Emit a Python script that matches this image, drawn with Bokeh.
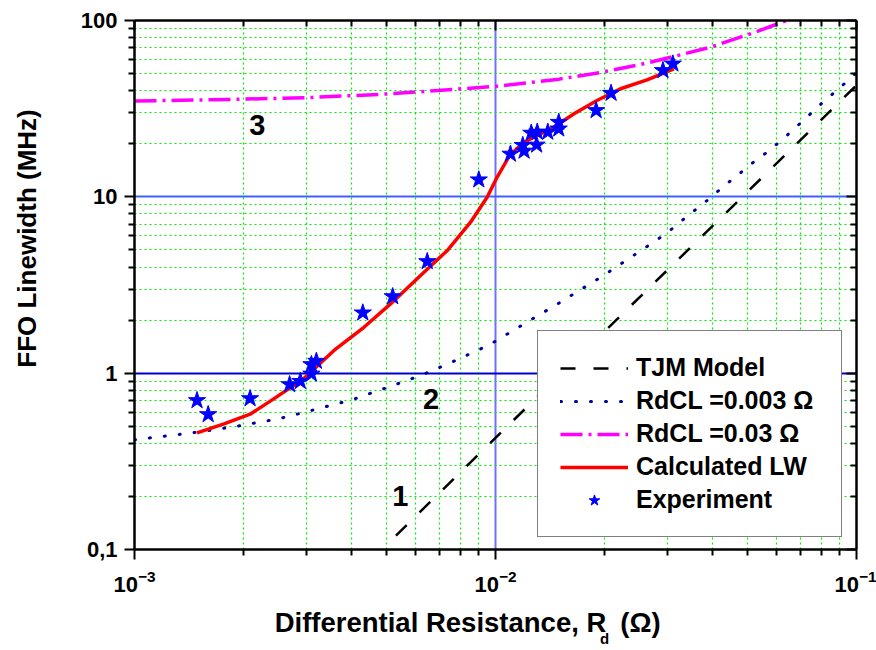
import math
from bokeh.plotting import figure
from bokeh.models import (LogAxis, FixedTicker, Grid, Legend, LegendItem, Label,
                          Range1d, LogTickFormatter)
from bokeh.embed import file_html
from bokeh.resources import INLINE

FONT = "Liberation Sans"

# ---- data -------------------------------------------------------------
# curve 1: TJM model
tjm_rd = [0.0053, 0.01, 0.03, 0.1]
tjm_lw = [0.12, 0.43, 3.86, 42.9]

# curve 2: RdCL = 0.003 Ohm
cl3_rd = [0.001, 0.00145, 0.0019, 0.0025, 0.003, 0.004, 0.0052, 0.0063, 0.0075,
          0.0091, 0.0099, 0.0125, 0.015, 0.02, 0.0272, 0.0298, 0.0326, 0.0356,
          0.0391, 0.0428, 0.0469, 0.0514, 0.0563, 0.0618, 0.0678, 0.0742, 0.0811,
          0.0893, 0.0973, 0.1]
cl3_lw = [0.419, 0.459, 0.498, 0.551, 0.604, 0.706, 0.851, 0.983, 1.145,
          1.374, 1.5, 2.0, 2.5, 3.6, 5.48, 6.22, 7.25, 8.37,
          9.75, 11.45, 13.3, 15.5, 17.8, 20.8, 24.7, 29.3, 34.7,
          41.0, 48.1, 50.5]

# curve 3: RdCL = 0.03 Ohm
cl30_rd = [0.001, 0.002, 0.003, 0.005, 0.0065, 0.01, 0.015, 0.0195, 0.0252,
           0.0312, 0.0394, 0.0509, 0.0622, 0.0655]
cl30_lw = [34.9, 35.8, 36.5, 38.3, 39.7, 42.3, 46.5, 50.7, 56.3,
           62.5, 70.6, 84.1, 97.7, 102.0]

# calculated linewidth
calc_rd = [0.00149, 0.00177, 0.0021, 0.00243, 0.00294, 0.00357, 0.00432, 0.00512,
           0.0062, 0.00738, 0.00853, 0.00948, 0.0101, 0.01095, 0.012, 0.0145,
           0.0165, 0.0191, 0.0222, 0.0263, 0.0312]
calc_lw = [0.459, 0.516, 0.588, 0.715, 0.929, 1.345, 1.82, 2.47,
           3.58, 5.0, 7.18, 9.95, 12.9, 17.2, 20.4, 24.8,
           29.6, 35.2, 41.0, 46.1, 53.2]

# measured linewidth
exp_rd = [0.00149, 0.0016, 0.00209, 0.00269, 0.00288, 0.00309, 0.00309, 0.00319,
          0.00429, 0.00519, 0.00647, 0.00899, 0.0110, 0.0120, 0.0119, 0.01256,
          0.01305, 0.0130, 0.01396, 0.01497, 0.01497, 0.019, 0.0209, 0.0291, 0.031]
exp_lw = [0.70, 0.583, 0.718, 0.862, 0.90, 0.99, 1.12, 1.17,
          2.20, 2.72, 4.30, 12.5, 17.5, 18.2, 19.6, 23.0,
          23.3, 19.7, 23.3, 26.5, 24.3, 30.9, 38.7, 52.1, 56.8]

legend_labels = ["TJM Model", "RdCL =0.003 \u03a9", "RdCL =0.03 \u03a9",
                 "Calculated LW", "Experiment"]

# curve tags
tag_text = ["1", "2", "3"]
tag_rd = [0.00545, 0.00663, 0.00219]
tag_lw = [0.20, 0.718, 25.7]

# axes
x_ticks = [0.001, 0.01, 0.1]
x_minor = [k * 10.0 ** e for e in (-3, -2) for k in range(2, 10)]
y_ticks = [0.1, 1, 10, 100]
y_tick_labels = ["0,1", "1", "10", "100"]
y_minor = [k * 10.0 ** e for e in (-1, 0, 1) for k in range(2, 10)]

x_title = ["Differential Resistance, R", "d", "(\u03a9)"]
y_title = "FFO Linewidth (MHz)"

# ---- layout ------------------------------------------------------------
W, H = 876, 650
FL, FR, FT, FB = 134, 856, 20, 549          # frame edges in canvas pixels
X0, X1, Y0, Y1 = 1e-3, 1e-1, 0.1, 100.0


def x_at(px):
    f = (px - FL) / (FR - FL)
    return round(10 ** (math.log10(X0) + f * (math.log10(X1) - math.log10(X0))), 8)


def y_at(py):
    f = (FB - py) / (FB - FT)
    return round(10 ** (math.log10(Y0) + f * (math.log10(Y1) - math.log10(Y0))), 8)


p = figure(width=W, height=H, x_axis_type="log", y_axis_type="log",
           x_range=Range1d(X0, X1), y_range=Range1d(Y0, Y1),
           output_backend="svg", toolbar_location=None,
           min_border_left=FL, min_border_right=W - FR,
           min_border_top=FT, min_border_bottom=H - FB,
           outline_line_color=None, background_fill_color="white",
           border_fill_color="white")


def dress(ax, inward):
    ax.axis_line_width = 2.5
    ax.axis_line_color = "black"
    ax.major_tick_line_width = 2
    ax.minor_tick_line_width = 2
    ax.major_tick_line_color = "black"
    ax.minor_tick_line_color = "black"
    ax.major_label_text_font = FONT
    ax.major_label_text_font_style = "bold"
    ax.major_label_text_font_size = "22px"
    ax.major_label_text_color = "black"
    if inward:
        ax.major_tick_in, ax.major_tick_out = 10, 0
        ax.minor_tick_in, ax.minor_tick_out = 6, 0
        ax.major_label_standoff = 0
    else:
        ax.major_tick_in, ax.major_tick_out = 0, 10
        ax.minor_tick_in, ax.minor_tick_out = 0, 6


def text_axis(ticks, labels, size, standoff, vertical=False):
    """A bare axis (no line, no ticks) used only to place title text."""
    ax = LogAxis(ticker=FixedTicker(ticks=ticks, minor_ticks=[]),
                 major_label_overrides=dict(zip(ticks, labels)),
                 axis_line_color=None, major_tick_line_color=None,
                 minor_tick_line_color=None, major_tick_in=0, major_tick_out=0,
                 minor_tick_in=0, minor_tick_out=0,
                 major_label_standoff=standoff,
                 major_label_text_font=FONT, major_label_text_font_style="bold",
                 major_label_text_font_size=size, major_label_text_color="black")
    if vertical:
        ax.major_label_orientation = "vertical"
    return ax


xa = p.xaxis[0]
xa.ticker = FixedTicker(ticks=x_ticks, minor_ticks=x_minor)
xa.formatter = LogTickFormatter()
dress(xa, False)
xa.major_label_standoff = 10

ya = p.yaxis[0]
ya.ticker = FixedTicker(ticks=y_ticks, minor_ticks=y_minor)
ya.major_label_overrides = {t: s for t, s in zip(y_ticks, y_tick_labels)}
dress(ya, False)
ya.major_label_standoff = 7

# mirrored frame axes, ticks only
top = LogAxis(ticker=FixedTicker(ticks=x_ticks, minor_ticks=x_minor),
              major_label_overrides={t: "" for t in x_ticks})
dress(top, True)
p.add_layout(top, "above")
right = LogAxis(ticker=FixedTicker(ticks=y_ticks, minor_ticks=y_minor),
                major_label_overrides={t: "" for t in y_ticks})
dress(right, True)
p.add_layout(right, "right")

# axis titles
p.add_layout(text_axis([x_at(440), x_at(640)], [x_title[0], x_title[2]],
                       "27.5px", 12), "below")
p.add_layout(text_axis([x_at(604)], [x_title[1]], "15px", -11), "below")
p.add_layout(text_axis([y_at(238)], [y_title], "26px", 36, vertical=True), "left")

# grids: green dotted minor grid, blue reference lines at decades
p.xgrid.ticker = FixedTicker(ticks=[0.01], minor_ticks=x_minor)
p.xgrid.grid_line_color = "#7070ff"
p.xgrid.grid_line_width = 2
p.xgrid.minor_grid_line_color = "#00ee00"
p.xgrid.minor_grid_line_dash = "2 3"
p.xgrid.minor_grid_line_width = 1.2

p.ygrid.ticker = FixedTicker(ticks=[1], minor_ticks=y_minor)
p.ygrid.grid_line_color = "#0000cc"
p.ygrid.grid_line_width = 1.8
p.ygrid.minor_grid_line_color = "#00ee00"
p.ygrid.minor_grid_line_dash = "2 3"
p.ygrid.minor_grid_line_width = 1.2

g10 = Grid(dimension=1, ticker=FixedTicker(ticks=[10]),
           grid_line_color="#4060ff", grid_line_width=1.8)
p.add_layout(g10)

# ---- series --------------------------------------------------------------
r_tjm = p.line(tjm_rd, tjm_lw, line_color="black", line_width=2.5,
               line_dash="15 18")
r_cl3 = p.line(cl3_rd, cl3_lw, line_color="#000099", line_width=3,
               line_dash="1 14", line_cap="round")
r_cl30 = p.line(cl30_rd, cl30_lw, line_color="#ff00ff", line_width=3.5,
                line_dash="22 6 3 6")
r_calc = p.line(calc_rd, calc_lw, line_color="#ff0000", line_width=3.5)
r_exp = p.scatter(exp_rd, exp_lw, marker="star", size=18,
                  fill_color="#0000ff", line_color="#0000ff")

for t, xv, yv in zip(tag_text, tag_rd, tag_lw):
    p.add_layout(Label(x=xv, y=yv, text=t, text_align="center",
                       text_baseline="middle", text_font=FONT,
                       text_font_style="bold", text_font_size="29px",
                       text_color="black"))

legend = Legend(items=[LegendItem(label=l, renderers=[r]) for l, r in
                       zip(legend_labels, [r_tjm, r_cl3, r_cl30, r_calc, r_exp])],
                location=(403, 12), margin=0, padding=22, spacing=4,
                glyph_width=68, glyph_height=28, label_height=28,
                label_width=183, label_standoff=8,
                label_text_font=FONT, label_text_font_style="bold",
                label_text_font_size="25px", label_text_color="black",
                border_line_color="black", border_line_width=1.2,
                background_fill_color="white", background_fill_alpha=1.0)
p.add_layout(legend)

open("out.html", "w").write(file_html(p, INLINE))
